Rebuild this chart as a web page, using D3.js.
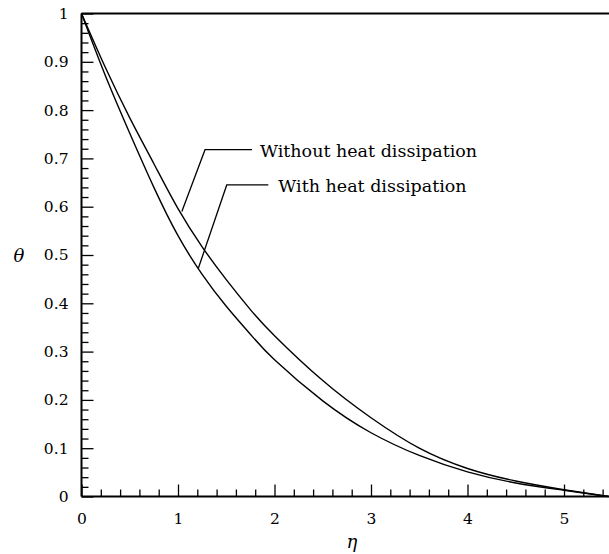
<!DOCTYPE html>
<html>
<head>
<meta charset="utf-8">
<script src="https://cdn.jsdelivr.net/npm/d3@7"></script>
<style>
  html, body { margin: 0; padding: 0; background: #fff; }
  svg { display: block; }
</style>
</head>
<body>
<svg id="chart" width="609" height="554"></svg>
<script>
// ---- data ----
const eta          = [0, 0.25, 0.5, 0.75, 1.0, 1.25, 1.5, 1.75, 2.0, 2.5, 3.0, 3.5, 4.0, 4.5, 5.0, 5.46];
const thetaWithout = [1.0, 0.887, 0.784, 0.689, 0.596, 0.517, 0.449, 0.387, 0.333, 0.240, 0.163, 0.100, 0.058, 0.032, 0.014, 0.0];
const thetaWith    = [1.0, 0.870, 0.752, 0.640, 0.540, 0.460, 0.394, 0.336, 0.283, 0.198, 0.132, 0.085, 0.051, 0.028, 0.013, 0.0];
const seriesNames = ["Without heat dissipation", "With heat dissipation"];
const xTicks = [0, 1, 2, 3, 4, 5];
const xTickLabels = ["0", "1", "2", "3", "4", "5"];
const yTicks = [0, 0.1, 0.2, 0.3, 0.4, 0.5, 0.6, 0.7, 0.8, 0.9, 1];
const yTickLabels = ["0", "0.1", "0.2", "0.3", "0.4", "0.5", "0.6", "0.7", "0.8", "0.9", "1"];
// annotation anchors in data units: curve point, elbow, line end, text start
const labelWithout = { tip: [1.04, 0.590], elbow: [1.28, 0.718], end: [1.767, 0.718], text: [1.85, 0.718] };
const labelWith    = { tip: [1.21, 0.472], elbow: [1.505, 0.645], end: [1.936, 0.645], text: [2.04, 0.645] };

// ---- layout ----
const W = 609, H = 554;
const x = d3.scaleLinear().domain([0, 5.46]).range([81.5, 608.4]);
const y = d3.scaleLinear().domain([0, 1]).range([496.5, 13.5]);
const svg = d3.select("#chart");
const serif = "'DejaVu Serif', serif";

// minor ticks
const xMinor = d3.range(0, 5.46, 0.2).filter(v => Math.abs(v - Math.round(v)) > 1e-6);
const yMinor = d3.range(0, 1.0001, 0.02).filter(v => Math.abs(v * 10 - Math.round(v * 10)) > 1e-6);

const gxMinor = svg.append("g").attr("transform", `translate(0,${y(0)})`)
  .call(d3.axisBottom(x).tickValues(xMinor).tickSize(-7).tickFormat(""));
const gyMinor = svg.append("g").attr("transform", `translate(${x(0)},0)`)
  .call(d3.axisLeft(y).tickValues(yMinor).tickSize(-7).tickFormat(""));
const gx = svg.append("g").attr("transform", `translate(0,${y(0)})`)
  .call(d3.axisBottom(x).tickValues(xTicks).tickSize(-12).tickPadding(16)
    .tickFormat((d, i) => xTickLabels[i]));
const gy = svg.append("g").attr("transform", `translate(${x(0)},0)`)
  .call(d3.axisLeft(y).tickValues(yTicks).tickSize(-12).tickPadding(13)
    .tickFormat((d, i) => yTickLabels[i]));

[gxMinor, gyMinor, gx, gy].forEach(g => {
  g.select(".domain").remove();
  g.attr("font-family", serif).attr("font-size", 15.5);
  g.selectAll("line").attr("stroke", "#000").attr("stroke-width", 1.3);
  g.selectAll("text").attr("fill", "#000")
    .attr("font-family", serif).attr("font-size", 15.5);
});

// frame: left, bottom, top
svg.append("line").attr("x1", x(0)).attr("x2", x(0)).attr("y1", y(0)).attr("y2", y(1))
  .attr("stroke", "#000").attr("stroke-width", 2);
svg.append("line").attr("x1", x(0)).attr("x2", W).attr("y1", y(0)).attr("y2", y(0))
  .attr("stroke", "#000").attr("stroke-width", 2);
svg.append("line").attr("x1", x(0)).attr("x2", W).attr("y1", y(1)).attr("y2", y(1))
  .attr("stroke", "#000").attr("stroke-width", 2);

// curves
const line = d3.line().x(d => x(d[0])).y(d => y(d[1])).curve(d3.curveNatural);
[thetaWithout, thetaWith].forEach(vals => {
  svg.append("path")
    .datum(eta.map((e, i) => [e, vals[i]]))
    .attr("d", line)
    .attr("fill", "none")
    .attr("stroke", "#000")
    .attr("stroke-width", 1.4);
});

// annotations
[[labelWithout, seriesNames[0]], [labelWith, seriesNames[1]]].forEach(([a, name]) => {
  svg.append("path")
    .attr("d", d3.line()([a.tip, a.elbow, a.end].map(p => [x(p[0]), y(p[1])])))
    .attr("fill", "none").attr("stroke", "#000").attr("stroke-width", 1.3);
  svg.append("text")
    .attr("x", x(a.text[0])).attr("y", y(a.text[1])).attr("dy", "0.4em")
    .attr("font-family", serif).attr("font-size", 17.5)
    .attr("fill", "#000").text(name);
});

// axis titles
svg.append("text").attr("x", 19).attr("y", 256).attr("dy", "0.35em")
  .attr("text-anchor", "middle")
  .attr("font-family", serif).attr("font-style", "italic").attr("font-size", 18)
  .text("θ");
svg.append("text").attr("x", 352).attr("y", 542).attr("dy", "0.35em")
  .attr("text-anchor", "middle")
  .attr("font-family", serif).attr("font-style", "italic").attr("font-size", 18)
  .text("η");
</script>
</body>
</html>
